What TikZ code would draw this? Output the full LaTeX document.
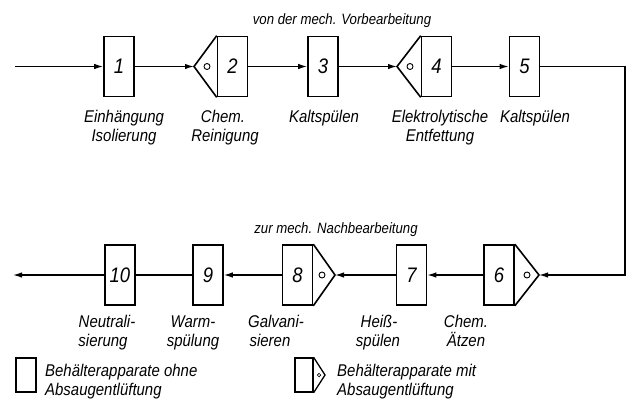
\documentclass[tikz,border=0pt]{standalone}
\usepackage{fontspec}
\setmainfont{Liberation Sans}[FakeStretch=0.88]
\usetikzlibrary{arrows.meta}
\begin{document}
\begin{tikzpicture}[x=1pt,y=-1pt,
  font=\fontsize{17}{19}\selectfont\itshape,
  box/.style={draw, line width=1.6pt, minimum width=30pt, minimum height=60pt, inner sep=0pt, font=\fontsize{21}{23}\selectfont\itshape},
  tri/.style={draw, line width=1.6pt, line join=miter},
  circ/.style={draw, circle, line width=0.9pt, minimum size=6pt, inner sep=0pt},
  flow/.style={line width=1.3pt, -{Latex[length=9pt,width=5.5pt]}},
  plain/.style={line width=1.3pt},
  lbl/.style={inner sep=0pt, anchor=base},
  lgd/.style={inner sep=0pt, anchor=base west},
  hdr/.style={font=\fontsize{15}{17}\selectfont\itshape, inner sep=0pt, anchor=base}]
\useasboundingbox (0,0) rectangle (629,405);
% top row
\node[box] (b1) at (119,66.5) {1};
\node[box] (b2) at (232.5,66.5) {2};
\coordinate (t2) at (194,66.5);
\draw[tri] (b2.north west) -- (t2) -- (b2.south west);
\node[circ] (c2) at (207,66.5) {};
\node[box] (b3) at (323,66.5) {3};
\node[box] (b4) at (436.5,66.5) {4};
\coordinate (t4) at (397,66.5);
\draw[tri] (b4.north west) -- (t4) -- (b4.south west);
\node[circ] (c4) at (410,66.5) {};
\node[box] (b5) at (524.5,66.5) {5};
% bottom row
\node[box] (b6) at (499,275) {6};
\coordinate (t6) at (539,275);
\draw[tri] (b6.north east) -- (t6) -- (b6.south east);
\node[circ] (c6) at (527,275) {};
\node[box] (b7) at (411.5,275) {7};
\node[box] (b8) at (297.5,275) {8};
\coordinate (t8) at (335,275);
\draw[tri] (b8.north east) -- (t8) -- (b8.south east);
\node[circ] (c8) at (322,275) {};
\node[box] (b9) at (208,275) {9};
\node[box] (b10) at (120,275) {10};
% connectors
\coordinate (in) at (15,66.5);
\coordinate (r1) at (625,66.5);
\coordinate (r2) at (625,275);
\coordinate (out) at (13,275);
\draw[flow] (in) -- (b1.west);
\draw[flow] (b1.east) -- (t2);
\draw[flow] (b2.east) -- (b3.west);
\draw[flow] (b3.east) -- (t4);
\draw[flow] (b4.east) -- (b5.west);
\draw[flow] (b5.east) -- (r1) -- (r2) -- (t6);
\draw[flow] (b6.west) -- (b7.east);
\draw[flow] (b7.west) -- (t8);
\draw[flow] (b8.west) -- (b9.east);
\draw[plain] (b9.west) -- (b10.east);
\draw[flow] (b10.west) -- (out);
% headers
\node[hdr] (h1) at (342,24) {von der mech. Vorbearbeitung};
\node[hdr] (h2) at (336,233) {zur mech. Nachbearbeitung};
% top labels
\node[lbl] (l1a) at (124,122) {Einhängung};
\node[lbl] (l1b) at (124,141) {Isolierung};
\node[lbl] (l2a) at (223,122) {Chem.};
\node[lbl] (l2b) at (225,141) {Reinigung};
\node[lbl] (l3a) at (324,122) {Kaltspülen};
\node[lbl] (l4a) at (440,122) {Elektrolytische};
\node[lbl] (l4b) at (440,141) {Entfettung};
\node[lbl] (l5a) at (535,122) {Kaltspülen};
% bottom labels
\node[lbl] (l10a) at (107,327) {Neutrali-};
\node[lbl] (l10b) at (103,346) {sierung};
\node[lbl] (l9a) at (193,327) {Warm-};
\node[lbl] (l9b) at (193,346) {spülung};
\node[lbl] (l8a) at (276,327) {Galvani-};
\node[lbl] (l8b) at (270,346) {sieren};
\node[lbl] (l7a) at (379,327) {Heiß-};
\node[lbl] (l7b) at (378,346) {spülen};
\node[lbl] (l6a) at (466,327) {Chem.};
\node[lbl] (l6b) at (466,346) {Ätzen};
% legend
\node[box, minimum width=20pt, minimum height=34pt, line width=1.3pt] (lg1) at (26,375) {};
\node[lgd] (lt1a) at (45,376) {Behälterapparate ohne};
\node[lgd] (lt1b) at (45,395) {Absaugentlüftung};
\node[box, minimum width=18pt, minimum height=34pt, line width=1.3pt] (lg2) at (304,375) {};
\coordinate (tl) at (325,375);
\draw[tri, line width=1.3pt] (lg2.north east) -- (tl) -- (lg2.south east);
\node[circ, minimum size=3.5pt, line width=0.7pt] (cl) at (319,375) {};
\node[lgd] (lt2a) at (337,376) {Behälterapparate mit};
\node[lgd] (lt2b) at (337,395) {Absaugentlüftung};
\end{tikzpicture}
\end{document}
